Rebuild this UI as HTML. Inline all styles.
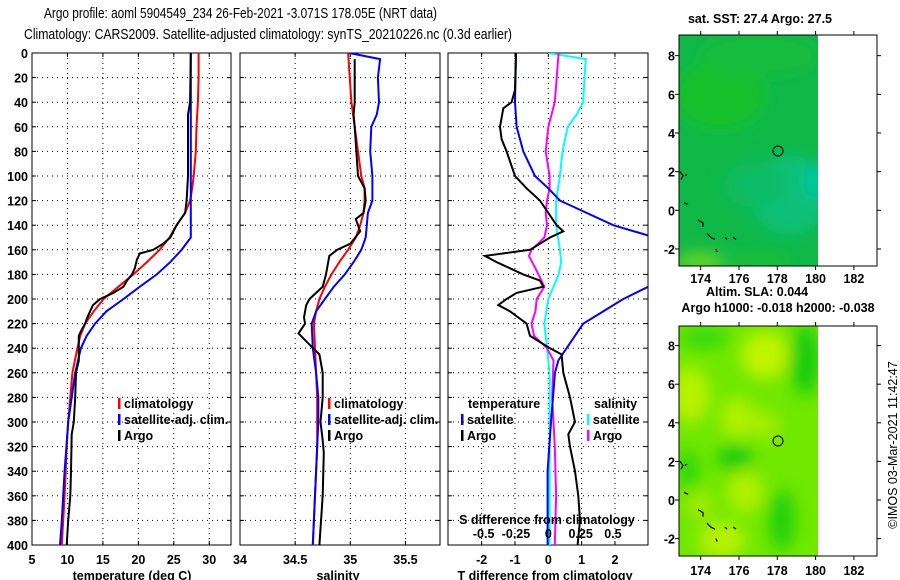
<!DOCTYPE html>
<html><head><meta charset="utf-8"><style>
body{margin:0;background:#fff;}
svg{display:block;font-family:"Liberation Sans",sans-serif;}
.t{font-size:15px;font-weight:normal;fill:#000;}
.tk{font-size:12.5px;font-weight:bold;fill:#000;}
.grid{stroke:#000;stroke-width:1;stroke-dasharray:1,4;}
</style></head><body>
<svg id="fig" width="900" height="580" viewBox="0 0 900 580">
<defs>
<clipPath id="c1"><rect x="32" y="53" width="199" height="492"/></clipPath>
<clipPath id="c2"><rect x="240" y="53" width="200" height="492"/></clipPath>
<clipPath id="c3"><rect x="448" y="53" width="200" height="492"/></clipPath>
<clipPath id="m1"><rect x="679" y="35" width="139" height="231"/></clipPath>
<clipPath id="m2"><rect x="679" y="326" width="139" height="230"/></clipPath>
<filter id="bl" x="-50%" y="-50%" width="200%" height="200%"><feGaussianBlur stdDeviation="8"/></filter>
</defs>
<text class="t" x="44" y="18" textLength="393" lengthAdjust="spacingAndGlyphs">Argo profile: aoml 5904549_234 26-Feb-2021 -3.071S 178.05E (NRT data)</text>
<text class="t" x="24" y="39" textLength="488" lengthAdjust="spacingAndGlyphs">Climatology: CARS2009. Satellite-adjusted climatology: synTS_20210226.nc (0.3d earlier)</text>
<g id="g1"></g>
<g id="g2"></g>
<g id="g3"></g>
<g id="map1">
<text class="tk" x="760" y="23" text-anchor="middle">sat. SST: 27.4 Argo: 27.5</text>
<g clip-path="url(#m1)">
<rect x="679" y="35" width="139" height="231" fill="#10b848"/>
<g filter="url(#bl)">
<ellipse cx="720" cy="95" rx="45" ry="35" fill="#18c02c"/>
<ellipse cx="760" cy="55" rx="60" ry="22" fill="#12bc3c"/>
<ellipse cx="790" cy="195" rx="40" ry="40" fill="#08bf78"/>
<ellipse cx="815" cy="180" rx="12" ry="18" fill="#00c8a0"/>
<ellipse cx="755" cy="185" rx="30" ry="22" fill="#0cbc68"/>
<ellipse cx="700" cy="262" rx="25" ry="9" fill="#70d820"/>
<ellipse cx="760" cy="262" rx="30" ry="7" fill="#20c030"/>
</g>
</g>
<rect x="679" y="35" width="198" height="231" fill="none" stroke="#000"/>
<circle cx="778" cy="151" r="5" fill="none" stroke="#000"/>
</g>
<g id="map2">
<text class="tk" x="757" y="296" text-anchor="middle">Altim. SLA: 0.044</text>
<text class="tk" x="778" y="312" text-anchor="middle">Argo h1000: -0.018 h2000: -0.038</text>
<g clip-path="url(#m2)">
<rect x="679" y="326" width="139" height="230" fill="#70e800"/>
<g filter="url(#bl)">
<ellipse cx="765" cy="355" rx="24" ry="24" fill="#c0f400"/>
<ellipse cx="690" cy="395" rx="20" ry="28" fill="#b8f200"/>
<ellipse cx="738" cy="418" rx="18" ry="20" fill="#b0f000"/>
<ellipse cx="765" cy="425" rx="14" ry="14" fill="#a8ee00"/>
<ellipse cx="745" cy="492" rx="18" ry="22" fill="#b0f000"/>
<ellipse cx="722" cy="540" rx="24" ry="18" fill="#b8f200"/>
<ellipse cx="700" cy="505" rx="14" ry="14" fill="#a0ec00"/>
<ellipse cx="805" cy="360" rx="15" ry="35" fill="#18cc10"/>
<ellipse cx="735" cy="458" rx="18" ry="13" fill="#18cc10"/>
<ellipse cx="782" cy="520" rx="13" ry="30" fill="#20d010"/>
<ellipse cx="688" cy="470" rx="10" ry="20" fill="#28d408"/>
<ellipse cx="705" cy="338" rx="25" ry="10" fill="#30d808"/>
</g>
</g>
<rect x="679" y="326" width="198" height="230" fill="none" stroke="#000"/>
<circle cx="778" cy="441" r="5" fill="none" stroke="#000"/>
</g>
<text class="tk" transform="translate(897,445) rotate(-90)" text-anchor="middle" style="font-weight:normal;font-size:12.5px">©IMOS 03-Mar-2021 11:42:47</text>
</svg>
<script>
// depths
const depthClim = [0,20,40,60,80,100,110,120,130,140,150,160,170,180,190,200,210,220,230,240,260,280,300,320,340,360,380,400];
const tempClim = [28.5,28.5,28.4,28.2,28.1,27.8,27.6,27.3,26.6,25.4,24.4,23,21.2,19.3,17.2,15.1,13.7,12.5,11.8,11.4,10.7,10.4,10.1,9.9,9.75,9.6,9.4,9.2];
const depthSat = [0,150,160,170,180,190,200,210,220,230,240,260,280,300,340,380,400];
const tempSat = [27.4,27.4,26.1,24.5,22.6,20.2,17.9,15.5,13.9,12.7,11.9,11.1,10.6,10.1,9.6,9.2,8.95];
const depthArgo = [0,40,50,100,120,130,140,150,155,160,163,168,175,180,185,190,195,200,205,210,215,220,225,230,250,260,280,300,310,340,360,380,400];
const tempArgo = [27.4,27.3,27.0,27.0,26.8,26.6,25.4,24.5,23.5,22.1,20.2,19.8,19.5,19.1,18.4,17.9,16.5,14.6,13.6,13.2,12.8,12.5,12.0,11.6,11.6,11.2,11.1,10.9,10.6,10.5,10.4,10.1,9.9];
const depthSC = [0,40,60,80,100,110,120,130,140,150,160,170,180,190,200,210,220,240,260,280,320,360,400];
const salClim = [34.98,35.01,35.04,35.07,35.10,35.13,35.13,35.12,35.09,35.05,34.98,34.90,34.83,34.77,34.72,34.69,34.67,34.68,34.69,34.70,34.70,34.68,34.66];
const depthSS = [0,5,20,40,50,60,80,100,120,130,150,160,170,180,190,200,210,220,240,260,280,300,340,400];
const salSat = [34.99,35.27,35.25,35.26,35.24,35.19,35.18,35.20,35.20,35.16,35.14,35.10,35.03,34.95,34.85,34.77,34.69,34.65,34.66,34.69,34.71,34.71,34.69,34.66];
const depthSA = [5,40,50,60,100,110,120,130,135,145,155,160,165,180,190,200,205,215,220,228,238,245,260,280,300,315,325,360,400];
const salArgo = [35.04,35.04,35.03,35.04,35.07,35.13,35.14,35.12,35.05,35.09,35.00,34.88,34.81,34.78,34.75,34.63,34.60,34.58,34.59,34.53,34.64,34.72,34.75,34.75,34.73,34.75,34.76,34.75,34.72];
const depthTD = [0,40,60,80,100,110,120,130,140,150,160,190,200,220,240,250,260,300,340,400];
const tdSat = [-0.97,-1.0,-0.95,-0.75,-0.4,0,0.35,1.15,1.95,3.2,4.5,3.0,2.25,1.05,0.55,0.3,0.2,0.08,-0.02,-0.02];
const depthTA = [0,30,40,45,60,70,80,100,110,120,130,140,145,150,160,165,170,180,185,190,195,200,205,210,220,230,240,245,260,280,300,310,320,340,360,380,400];
const tdArgo = [-0.97,-1.0,-1.1,-1.35,-1.45,-1.4,-1.25,-1.0,-0.65,-0.25,0,0.25,0.45,0.05,-0.55,-1.9,-1.55,-0.75,-0.25,-0.15,-0.95,-1.25,-1.5,-1.15,-0.65,-0.55,0.05,0.4,0.45,0.65,0.8,0.6,0.65,0.8,0.9,0.95,0.88];
const depthSD = [0,5,20,40,50,60,80,100,120,140,160,170,180,190,200,220,240,260,300,400];
const sdSat = [0,0.29,0.28,0.27,0.22,0.15,0.11,0.09,0.06,0.06,0.09,0.10,0.08,0.04,0,-0.03,-0.01,0.01,0.01,0.01];
const depthSDA = [0,40,60,80,100,110,120,130,140,150,160,165,175,190,200,210,220,230,240,250,280,300,320,360,400];
const sdArgo = [0.08,0.05,0,-0.02,0.01,0.01,-0.01,-0.02,-0.01,-0.03,-0.13,-0.15,-0.10,-0.03,-0.09,-0.10,-0.13,-0.11,-0.01,0.04,0.03,0.04,0.05,0.06,0.05];
const depthTicks = [0,20,40,60,80,100,120,140,160,180,200,220,240,260,280,300,320,340,360,380,400];
const tempTicks = [5,10,15,20,25,30];
const salTicks = [34,34.5,35,35.5];
const tdTicks = [-2,-1,0,1,2];
const sdTicks = [-0.5,-0.25,0,0.25,0.5];
const lonTicks = [174,176,178,180,182];
const latTicks = [8,6,4,2,0,-2];

const NS='http://www.w3.org/2000/svg';
const yD = d => 53 + d*492/400;
const xT = t => 32 + (t-5)*7.09;
const xS = s => 240 + (s-34)*110.3;
const xTd = v => 548.3 + v*33.33;
const xSd = v => 548.3 + v*129.3;
const xLon = l => 700.7 + (l-174)*19.15;
const yLat1 = l => 210.3 - l*19.33;
const yLat2 = l => 500 - l*19.3;

function mk(tag, attrs, parent){const e=document.createElementNS(NS,tag);for(const k in attrs)e.setAttribute(k,attrs[k]);parent.appendChild(e);return e;}

function panel(g,x0,x1,vTicks,xf,showDepth){
  const gr=mk('g',{},g);
  
  
  depthTicks.forEach(d=>{ if(d>0&&d<400){mk('line',{x1:x0,x2:x1,y1:yD(d),y2:yD(d),class:'grid'},gr);}
    mk('line',{x1:x0,x2:x0+4,y1:yD(d),y2:yD(d),stroke:'#000'},gr);
    mk('line',{x1:x1-4,x2:x1,y1:yD(d),y2:yD(d),stroke:'#000'},gr);
    if(showDepth){const t=mk('text',{x:28,y:yD(d)+5,'text-anchor':'end',class:'tk'},g);t.textContent=d;
      
      }
  });
  vTicks.forEach(v=>{const x=xf(v); if(x>x0+1&&x<x1-1){mk('line',{x1:x,x2:x,y1:53,y2:545,class:'grid'},gr);}
    mk('line',{x1:x,x2:x,y1:53,y2:57,stroke:'#000'},gr);mk('line',{x1:x,x2:x,y1:541,y2:545,stroke:'#000'},gr);});
  const r=mk('rect',{x:x0,y:53,width:x1-x0,height:492,fill:'none',stroke:'#000'},g);
  
  
}
function line(g,ds,vs,xf,color,clip,name,w){
  const pts=ds.map((d,i)=>xf(vs[i]).toFixed(1)+','+yD(d).toFixed(1)).join(' ');
  const p=mk('polyline',{points:pts,fill:'none',stroke:color,'stroke-width':w||2,'clip-path':'url(#'+clip+')'},g);
  
  
}
function label(g,x,y,txt,anchor,name){const t=mk('text',{x:x,y:y,'text-anchor':anchor||'start',class:'tk'},g);t.textContent=txt;
  
  }
function legend(g,x,y,color,txt){mk('rect',{x:x,y:y-10,width:2.5,height:11,fill:color},g);
  const t=mk('text',{x:x+6,y:y,class:'tk'},g);t.textContent=txt;
  
  }

const g1=document.getElementById('g1'),g2=document.getElementById('g2'),g3=document.getElementById('g3');
panel(g1,32,231,tempTicks,xT,true);
line(g1,depthClim,tempClim,xT,'#f00','c1','temp-climatology-line');
line(g1,depthSat,tempSat,xT,'#00f','c1','temp-satellite-line');
line(g1,depthArgo,tempArgo,xT,'#000','c1','temp-argo-line');
tempTicks.forEach(v=>label(g1,xT(v),564,v,'middle','temp-tick-label'));
label(g1,132,580,'temperature (deg C)','middle','temp-axis-title');
legend(g1,118,408,'#f00','climatology');legend(g1,118,424,'#00f','satellite-adj. clim.');legend(g1,118,440,'#000','Argo');

panel(g2,240,440,salTicks,xS,false);
line(g2,depthSC,salClim,xS,'#f00','c2','sal-climatology-line');
line(g2,depthSS,salSat,xS,'#00f','c2','sal-satellite-line');
line(g2,depthSA,salArgo,xS,'#000','c2','sal-argo-line');
salTicks.forEach(v=>label(g2,xS(v),564,v,'middle','sal-tick-label'));
label(g2,338,580,'salinity','middle','sal-axis-title');
legend(g2,328,408,'#f00','climatology');legend(g2,328,424,'#00f','satellite-adj. clim.');legend(g2,328,440,'#000','Argo');

panel(g3,448,648,tdTicks,xTd,false);
line(g3,depthSD,sdSat,xSd,'#0ff','c3','sdiff-satellite-line');
line(g3,depthSDA,sdArgo,xSd,'#f0f','c3','sdiff-argo-line');
line(g3,depthTD,tdSat,xTd,'#00f','c3','tdiff-satellite-line');
line(g3,depthTA,tdArgo,xTd,'#000','c3','tdiff-argo-line');
tdTicks.forEach(v=>label(g3,xTd(v),564,v,'middle','tdiff-tick-label'));
label(g3,545,580,'T difference from climatology','middle','tdiff-axis-title');
label(g3,547,524,'S difference from climatology','middle','sdiff-axis-title');
sdTicks.forEach(v=>label(g3,xSd(v),538,v,'middle','sdiff-tick-label'));
label(g3,468,408,'temperature','start','legend-temperature-header');
label(g3,594,408,'salinity','start','legend-salinity-header');
legend(g3,461,424,'#00f','satellite');legend(g3,461,440,'#000','Argo');
legend(g3,587,424,'#0ff','satellite');legend(g3,587,440,'#f0f','Argo');

// map axes
const m1=document.getElementById('map1'),m2=document.getElementById('map2');
function mapAxes(g,top,bot,yl,labY){
  lonTicks.forEach(l=>{const x=xLon(l);mk('line',{x1:x,x2:x,y1:top,y2:top-4,stroke:'#000'},g);mk('line',{x1:x,x2:x,y1:bot,y2:bot+4,stroke:'#000'},g);
    label(g,x,labY,l,'middle','lon-tick-label');});
  latTicks.forEach(l=>{const y=yl(l);mk('line',{x1:675,x2:679,y1:y,y2:y,stroke:'#000'},g);mk('line',{x1:877,x2:881,y1:y,y2:y,stroke:'#000'},g);
    label(g,675,y+5,l,'end','lat-tick-label');});
  // coastline fragments
  const c=mk('path',{d:'M680,'+(yl(2))+' l3,4 l-2,4 M684,'+(yl(0.4))+' l4,2 M698,'+(yl(-0.5))+' l5,3 l0,4 M707,'+(yl(-1.2))+' l4,4 l4,2 M725,'+(yl(-1.4))+' l2,2 M733,'+(yl(-1.4))+' l3,2 M716,'+(yl(-2))+' l1,3 M685,'+(yl(1.8))+' l2,-1',fill:'none',stroke:'#000','stroke-width':1.2},g);
  
  
}
mapAxes(m1,35,266,yLat1,283);
mapAxes(m2,326,556,yLat2,575);
</script>
</body></html>
